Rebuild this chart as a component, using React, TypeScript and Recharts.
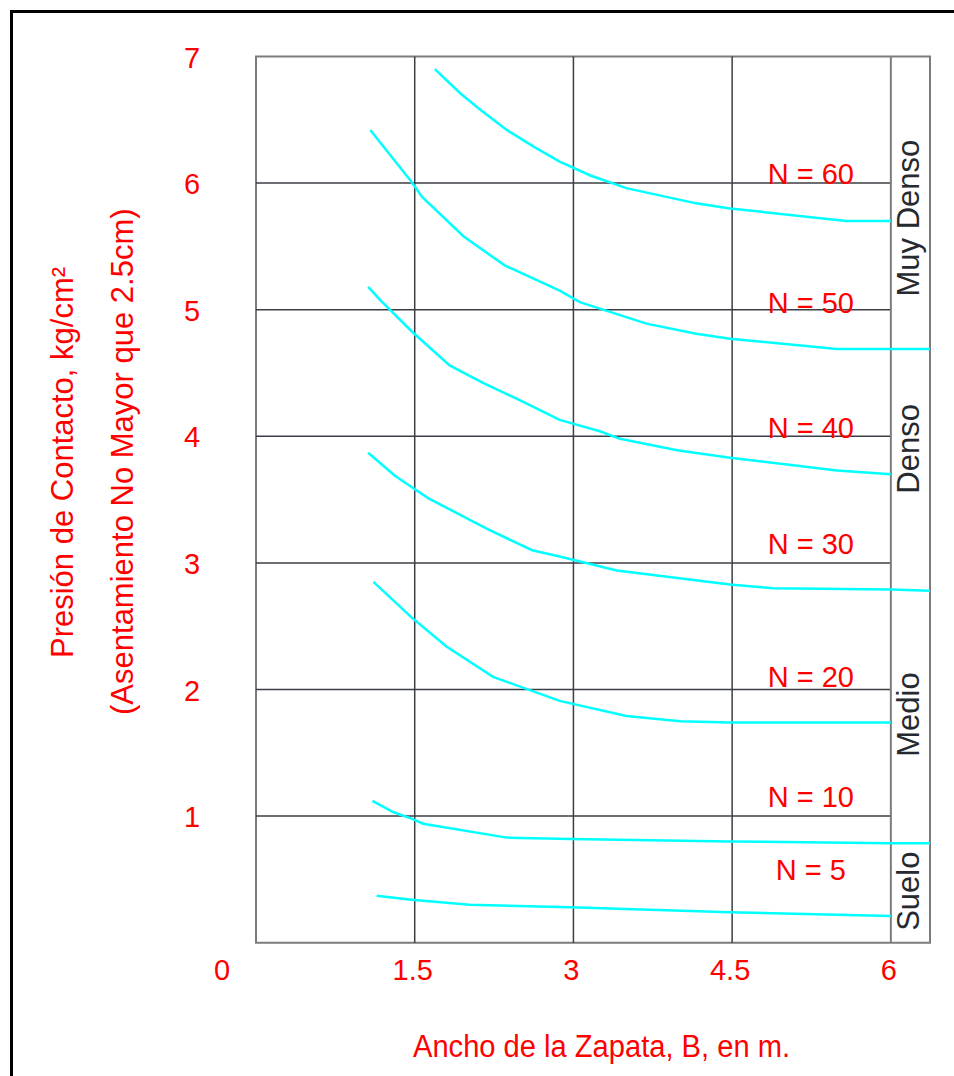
import { LineChart, Line, XAxis, YAxis, ReferenceLine, ReferenceArea, ReferenceDot, Label } from "recharts";

const N60_B = [1.69, 1.93, 2.12, 2.37, 2.62, 2.87, 3.16, 3.5, 4.16, 4.48, 5.58, 6.0];
const N60_Q = [6.9, 6.71, 6.58, 6.42, 6.29, 6.17, 6.06, 5.96, 5.84, 5.8, 5.7, 5.7];
const N50_B = [1.08, 1.46, 1.57, 1.96, 2.35, 2.87, 3.06, 3.69, 4.16, 4.48, 5.49, 6.37];
const N50_Q = [6.42, 6.02, 5.89, 5.58, 5.35, 5.15, 5.06, 4.89, 4.81, 4.77, 4.69, 4.69];
const N40_B = [1.06, 1.17, 1.47, 1.83, 2.15, 2.53, 2.87, 3.25, 3.44, 3.98, 4.48, 5.49, 6.0];
const N40_Q = [5.18, 5.08, 4.83, 4.56, 4.42, 4.27, 4.13, 4.04, 3.98, 3.89, 3.83, 3.73, 3.7];
const N30_B = [1.06, 1.31, 1.47, 1.63, 2.18, 2.61, 2.87, 3.41, 4.48, 4.89, 6.0, 6.37];
const N30_Q = [3.87, 3.69, 3.6, 3.51, 3.27, 3.1, 3.05, 2.94, 2.83, 2.8, 2.79, 2.78];
const N20_B = [1.11, 1.47, 1.8, 2.24, 2.87, 3.5, 4.01, 4.48, 6.0];
const N20_Q = [2.85, 2.57, 2.34, 2.1, 1.91, 1.79, 1.75, 1.74, 1.74];
const N10_B = [1.1, 1.3, 1.47, 1.58, 2.37, 2.97, 4.48, 6.0, 6.37];
const N10_Q = [1.12, 1.03, 0.98, 0.94, 0.83, 0.82, 0.8, 0.785, 0.785];
const N5_B = [1.14, 1.47, 2.02, 2.97, 4.48, 6.0];
const N5_Q = [0.37, 0.34, 0.3, 0.28, 0.24, 0.21];

const X_TICKS = [0, 1.5, 3, 4.5, 6];
const Y_TICKS = [1, 2, 3, 4, 5, 6, 7];
const GRID_Y = [1, 2, 3, 4, 5, 6];
const GRID_X = [1.5, 3, 4.5];

const N_LABELS = ["N = 60", "N = 50", "N = 40", "N = 30", "N = 20", "N = 10", "N = 5"];
const BANDS = ["Muy Denso", "Denso", "Medio", "Suelo"];

// where the annotations sit, in chart units
const N_LABEL_AT = { b: 5.244, q: [5.99, 4.97, 3.99, 3.07, 2.02, 1.07, 0.495] };
const BAND_AT = { b: 6.268, q: [5.724, 3.901, 1.802, 0.407] };

const zip = (b: number[], q: number[]) => b.map((v, i) => ({ b: v, q: q[i] }));
const SERIES = [
  zip(N60_B, N60_Q), zip(N50_B, N50_Q), zip(N40_B, N40_Q), zip(N30_B, N30_Q),
  zip(N20_B, N20_Q), zip(N10_B, N10_Q), zip(N5_B, N5_Q),
];

const W = 954;
const H = 1076;
const Y_AXIS_W = 80;
const X_AXIS_H = 60;
const M = { top: 56.5, right: 24, bottom: 133.3 - X_AXIS_H, left: 256 - Y_AXIS_W };
const PLOT_LEFT = 256;
const PLOT_BOTTOM = 942.7;
const FONT = "'Liberation Sans', Arial, sans-serif";
const RED = "#ff0000";
const GRID = "#3b3e45";
const BORDER = "#7c7c7c";
const CYAN = "#00ffff";

function YTick({ y, payload }: any) {
  return (
    <text x={PLOT_LEFT - 64} y={y + 11} textAnchor="middle" fill={RED} fontSize={29} fontFamily={FONT}>
      {payload.value}
    </text>
  );
}

function XTick({ x, payload }: any) {
  const dx = payload.value === 0 ? -34 : -2;
  return (
    <text x={x + dx} y={PLOT_BOTTOM + 37.5} textAnchor="middle" fill={RED} fontSize={29} fontFamily={FONT}>
      {payload.value}
    </text>
  );
}

export default function App() {
  return (
    <div style={{ position: "absolute", left: 0, top: 0, width: W, height: H, overflow: "hidden", background: "#fff" }}>
      <div
        style={{
          position: "absolute", left: 10, top: 10, width: W - 10, height: H - 10,
          boxSizing: "border-box", borderLeft: "3px solid #000", borderTop: "3px solid #000",
        }}
      />
      <div style={{ position: "absolute", left: 0, top: 0 }}>
        <LineChart width={W} height={H} margin={M}>
          <XAxis
            dataKey="b" type="number" domain={[0, 6.37]} ticks={X_TICKS} interval={0}
            height={X_AXIS_H} axisLine={false} tickLine={false} tick={<XTick />} allowDataOverflow
          >
            <Label
              content={() => (
                <text x={601.5} y={1056.7} textAnchor="middle" fill={RED} fontSize={31} fontFamily={FONT} textLength={377} lengthAdjust="spacingAndGlyphs">
                  Ancho de la Zapata, B, en m.
                </text>
              )}
            />
          </XAxis>
          <YAxis
            type="number" domain={[0, 7]} ticks={Y_TICKS} interval={0}
            width={Y_AXIS_W} axisLine={false} tickLine={false} tick={<YTick />} allowDataOverflow
          >
            <Label
              content={() => (
                <g fill={RED} fontSize={31} fontFamily={FONT}>
                  <text x={73.3} y={462.5} textAnchor="middle" transform="rotate(-90, 73.3, 462.5)">
                    Presión de Contacto, kg/cm²
                  </text>
                  <text x={133.3} y={461.7} textAnchor="middle" transform="rotate(-90, 133.3, 461.7)">
                    (Asentamiento No Mayor que 2.5cm)
                  </text>
                </g>
              )}
            />
          </YAxis>

          {GRID_Y.map((v) => (
            <ReferenceLine key={"h" + v} segment={[{ x: 0, y: v }, { x: 6, y: v }]} stroke={GRID} strokeWidth={1.5} />
          ))}
          {GRID_X.map((v) => (
            <ReferenceLine key={"v" + v} x={v} stroke={GRID} strokeWidth={1.5} />
          ))}
          <ReferenceLine x={6} stroke={BORDER} strokeWidth={2} />
          <ReferenceArea x1={0} x2={6.37} y1={0} y2={7} fill="none" stroke={BORDER} strokeWidth={2} />

          {SERIES.map((d, i) => (
            <Line
              key={i} data={d} dataKey="q" type="linear" stroke={CYAN} strokeWidth={2.5}
              dot={false} activeDot={false} isAnimationActive={false}
            />
          ))}

          {N_LABELS.map((t, i) => (
            <ReferenceDot
              key={t} x={N_LABEL_AT.b} y={N_LABEL_AT.q[i]} r={0} stroke="none" fill="none"
              label={(p: any) => (
                <text x={p.viewBox.x} y={p.viewBox.y} textAnchor="middle" fill={RED} fontSize={29} fontFamily={FONT}>
                  {t}
                </text>
              )}
            />
          ))}
          {BANDS.map((t, i) => (
            <ReferenceDot
              key={t} x={BAND_AT.b} y={BAND_AT.q[i]} r={0} stroke="none" fill="none"
              label={(p: any) => {
                const { x, y } = p.viewBox;
                return (
                  <text x={x} y={y} textAnchor="middle" fill="#262a30" fontSize={31} fontFamily={FONT} transform={`rotate(-90, ${x}, ${y})`}>
                    {t}
                  </text>
                );
              }}
            />
          ))}
        </LineChart>
      </div>
    </div>
  );
}
